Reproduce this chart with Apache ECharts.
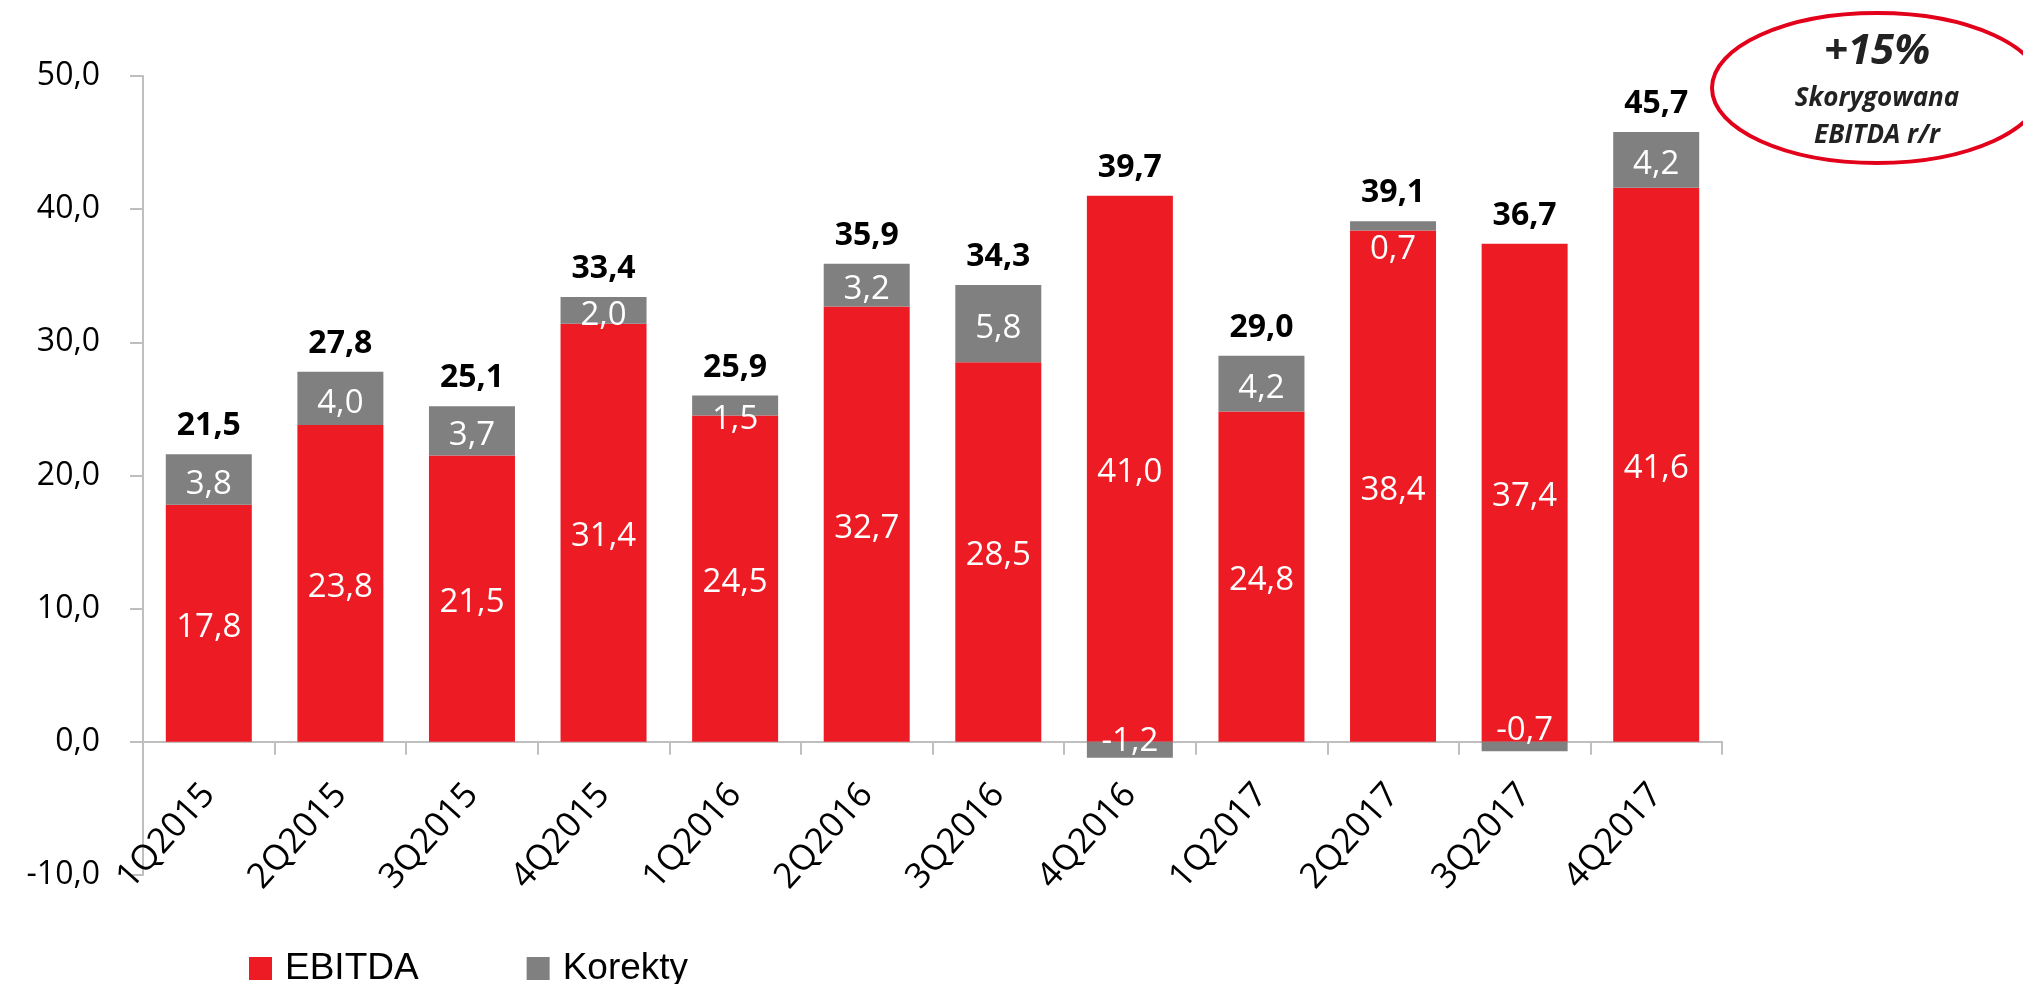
<!DOCTYPE html>
<html>
<head>
<meta charset="utf-8">
<script src="https://cdn.jsdelivr.net/npm/echarts@6/dist/echarts.min.js"></script>
<style>
html,body{margin:0;padding:0;background:#fff;}
#chart{width:2023px;height:984px;}
</style>
</head>
<body>
<div id="chart"></div>
<script>
const categories = ['1Q2015','2Q2015','3Q2015','4Q2015','1Q2016','2Q2016','3Q2016','4Q2016','1Q2017','2Q2017','3Q2017','4Q2017'];
const ebitda = [17.8, 23.8, 21.5, 31.4, 24.5, 32.7, 28.5, 41.0, 24.8, 38.4, 37.4, 41.6];
const korekty = [3.8, 4.0, 3.7, 2.0, 1.5, 3.2, 5.8, -1.2, 4.2, 0.7, -0.7, 4.2];
const totals = [21.5, 27.8, 25.1, 33.4, 25.9, 35.9, 34.3, 39.7, 29.0, 39.1, 36.7, 45.7];
const yTicks = [-10, 0, 10, 20, 30, 40, 50];

const RED = '#ED1C24';
const GREY = '#808080';
const FONT = 'Open Sans';
const fmt = v => Number(v).toFixed(1).replace('.', ',');

// per-item label offsets for the small correction bars
const korOffsets = {4: [0, 14], 7: [0, -8], 9: [0, 24], 10: [0, -16]};

const chart = echarts.init(document.getElementById('chart'), null, {renderer: 'canvas'});
chart.setOption({
  animation: false,
  textStyle: {fontFamily: FONT},
  grid: {left: 143, right: 301, top: 76, bottom: 109, containLabel: false, outerBoundsMode: 'none'},
  legend: {
    data: ['EBITDA', 'Korekty'],
    left: 244, top: 945,
    itemWidth: 23, itemHeight: 23, itemGap: 108,
    icon: 'rect',
    textStyle: {fontFamily: 'Liberation Sans', fontSize: 37, color: '#000', padding: [0, 0, 0, 8]}
  },
  xAxis: {
    type: 'category',
    data: categories,
    axisLine: {onZero: true, lineStyle: {color: '#BFBFBF', width: 2}},
    axisTick: {show: true, length: 13, lineStyle: {color: '#BFBFBF', width: 2}},
    axisLabel: {rotate: 48, margin: -86, fontSize: 35, color: '#000', fontFamily: FONT, interval: 0}
  },
  yAxis: {
    type: 'value',
    min: yTicks[0], max: yTicks[yTicks.length - 1], interval: 10,
    splitLine: {show: false},
    axisLine: {show: true, lineStyle: {color: '#BFBFBF', width: 2}},
    axisTick: {show: true, length: 13, lineStyle: {color: '#BFBFBF', width: 2}},
    axisLabel: {margin: 43, fontSize: 32, color: '#000', fontFamily: FONT, formatter: v => fmt(v)}
  },
  series: [
    {
      name: 'EBITDA', type: 'bar', stack: 'a', barWidth: 86,
      itemStyle: {color: RED},
      label: {show: true, position: 'inside', color: '#fff', fontSize: 33, fontFamily: FONT,
              offset: [0, 4], formatter: p => fmt(p.value)},
      data: ebitda
    },
    {
      name: 'Korekty', type: 'bar', stack: 'a', barWidth: 86,
      itemStyle: {color: GREY},
      label: {show: true, position: 'inside', color: '#fff', fontSize: 33, fontFamily: FONT,
              offset: [0, 5], formatter: p => fmt(p.value)},
      data: korekty.map((v, i) => korOffsets[i] ? {value: v, label: {offset: korOffsets[i]}} : v)
    },
    {
      name: 'Suma', type: 'bar', stack: 'a', barWidth: 86,
      itemStyle: {color: 'transparent'},
      label: {show: true, position: 'top', distance: 12, color: '#000', fontSize: 32,
              fontWeight: 'bold', fontFamily: FONT, formatter: p => fmt(totals[p.dataIndex])},
      data: totals.map(() => 1e-6)
    }
  ],
  graphic: [
    {type: 'ellipse', shape: {cx: 1877, cy: 88, rx: 165, ry: 75},
     style: {fill: 'none', stroke: '#E2001A', lineWidth: 4}},
    {type: 'text', x: 1877, y: 52,
     style: {text: '+15%', fill: '#222', font: 'italic bold 42px "Open Sans"', align: 'center', verticalAlign: 'middle'}},
    {type: 'text', x: 1877, y: 99,
     style: {text: 'Skorygowana', fill: '#222', font: 'italic bold 26px "Open Sans"', align: 'center', verticalAlign: 'middle'}},
    {type: 'text', x: 1877, y: 136,
     style: {text: 'EBITDA r/r', fill: '#222', font: 'italic bold 26px "Open Sans"', align: 'center', verticalAlign: 'middle'}}
  ]
});
</script>
</body>
</html>
